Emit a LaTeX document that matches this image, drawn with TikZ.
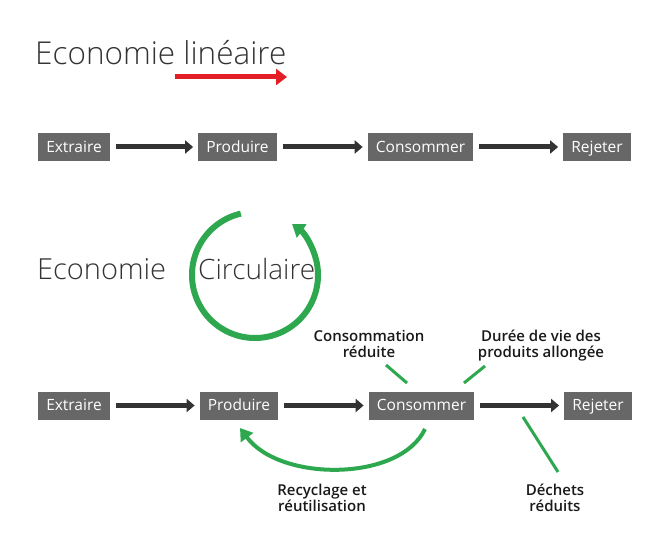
\documentclass[tikz,border=0pt]{standalone}
\usepackage{fontspec}
\setmainfont{Open Sans}
\IfFontExistsTF{Open Sans Light}{\newfontfamily\titlefont{Open Sans Light}}{\newfontfamily\titlefont{Open Sans}}
\IfFontExistsTF{Open Sans SemiBold}{\newfontfamily\notefont{Open Sans SemiBold}}{%
  \IfFontExistsTF{Open Sans Semibold}{\newfontfamily\notefont{Open Sans Semibold}}{\newfontfamily\notefont{Open Sans}}}
\usetikzlibrary{arrows.meta}
\definecolor{boxgray}{HTML}{676767}
\definecolor{arrowdark}{HTML}{333333}
\definecolor{loopgreen}{HTML}{2EA84E}
\definecolor{linered}{HTML}{E31E24}
\definecolor{inkgray}{HTML}{333333}
\tikzstyle{stage}=[rectangle,fill=boxgray,text=white,font=\fontsize{15.5}{18}\selectfont,minimum height=28pt,inner xsep=8pt,inner ysep=0pt,text height=14pt,text depth=3.5pt]
\tikzstyle{flow}=[draw=arrowdark,line width=5pt,-{Triangle[length=8pt,width=13pt]},shorten <=6pt,shorten >=5pt]
\tikzstyle{headline}=[text=inkgray,font=\titlefont\fontsize{29}{34}\selectfont,inner sep=0pt]
\tikzstyle{redflow}=[draw=linered,line width=5pt,-{Triangle[length=11pt,width=16pt]}]
\tikzstyle{loopline}=[draw=loopgreen,line width=6pt,-{Triangle[length=12pt,width=16pt]}]
\tikzstyle{recycle}=[draw=loopgreen,line width=4pt,-{Triangle[length=12pt,width=15pt]}]
\tikzstyle{pointer}=[draw=loopgreen,line width=3pt]
\tikzstyle{note}=[align=center,text=black!90,font=\notefont\fontsize{15}{16}\selectfont,inner sep=0pt]

\begin{document}
\begin{tikzpicture}[x=1pt,y=1pt]
    \useasboundingbox (0,0) rectangle (661,552);
    % Linear economy
    \node[headline,anchor=base west,font=\titlefont\fontsize{31.5}{36}\selectfont] (lin) at (35,487) {Economie linéaire};
    \coordinate (rs) at (175,475);
    \coordinate (rt) at (287,475);
    \draw[redflow] (rs) -- (rt);
    \foreach \pos/\name/\word in {{(74,405)/ex1/Extraire}, {(237.5,405)/pr1/Produire}, {(420.5,405)/co1/Consommer}, {(597,405)/re1/Rejeter}}
        \node[stage] (\name) at \pos {\word};
    \foreach \source/\dest in {ex1/pr1, pr1/co1, co1/re1}
        \path[flow] (\source) -- (\dest);
    % Circular economy
    \node[headline,anchor=base west] (eco) at (37,272) {Economie};
    \node[headline,anchor=base west,font=\titlefont\fontsize{28}{34}\selectfont] (circ) at (198,272) {Circulaire};
    \coordinate (hub) at (255,277);
    \draw[loopline] ([shift={(103:63)}]hub) arc[start angle=103, end angle=414, radius=63];
    \foreach \pos/\name/\word in {{(74,146.5)/ex2/Extraire}, {(239,146.5)/pr2/Produire}, {(421.5,146.5)/co2/Consommer}, {(598,146.5)/re2/Rejeter}}
        \node[stage] (\name) at \pos {\word};
    \foreach \source/\dest in {ex2/pr2, pr2/co2, co2/re2}
        \path[flow] (\source) -- (\dest);
    % Labels and pointers (base = last line)
    \node[note,anchor=base] (less) at (369,195) {Consommation\\réduite};
    \node[note,anchor=base] (life) at (541,195) {Durée de vie des\\produits allongée};
    \node[note,anchor=base] (recy) at (322,41) {Recyclage et\\réutilisation};
    \node[note,anchor=base] (waste) at (555,41) {Déchets\\réduits};
    \coordinate (p1a) at (386,187);
    \coordinate (p1b) at (407,169);
    \coordinate (p2a) at (485,186);
    \coordinate (p2b) at (464,169);
    \coordinate (p3a) at (523,135);
    \coordinate (p3b) at (558,80);
    \foreach \source/\dest in {p1a/p1b, p2a/p2b, p3a/p3b}
        \path[pointer] (\source) -- (\dest);
    \coordinate (rc1) at (425,123);
    \coordinate (rc2) at (240,124);
    \draw[recycle] (rc1) .. controls (400,70) and (280,70) .. (rc2);
\end{tikzpicture}
\end{document}
